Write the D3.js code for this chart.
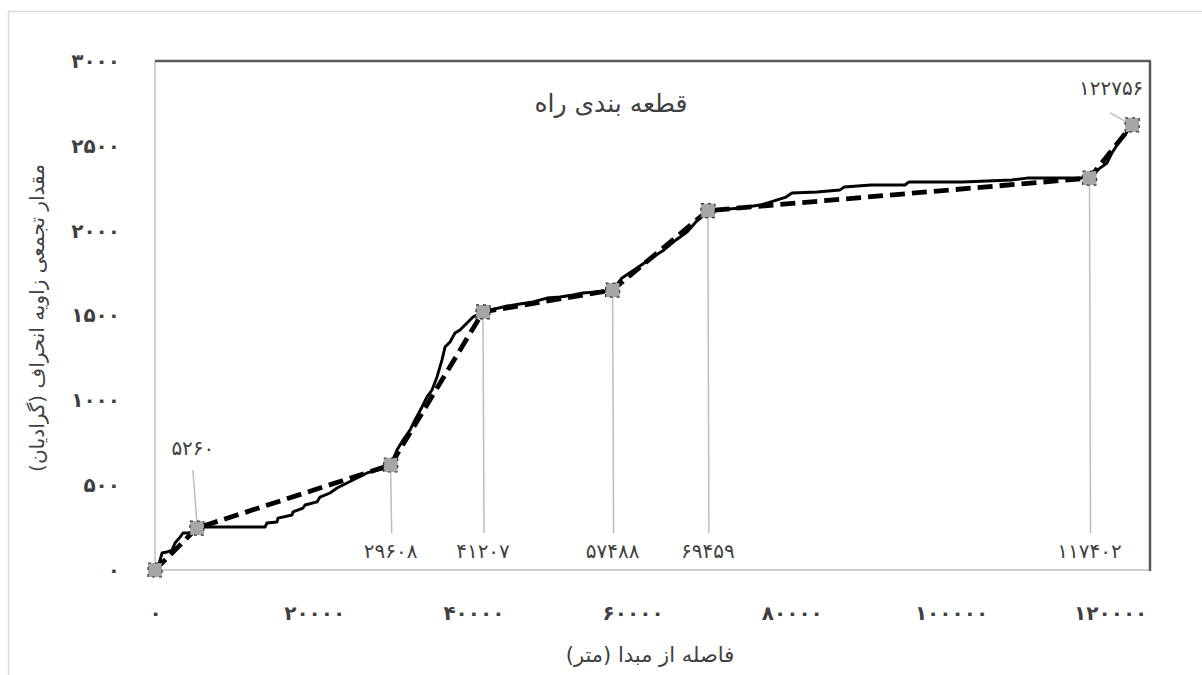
<!DOCTYPE html>
<html>
<head>
<meta charset="utf-8">
<script src="https://cdn.jsdelivr.net/npm/d3@7"></script>
<style>
  html, body { margin: 0; padding: 0; background: #fff; }
  svg { display: block; }
  text { font-family: "DejaVu Sans", sans-serif; fill: #404040; }
</style>
</head>
<body>
<svg id="chart" width="1202" height="675"></svg>
<script>
// Segment break points: distance from origin (m) and cumulative deflection (grad)
const breakDist  = [0, 5260, 29608, 41207, 57488, 69459, 117402, 122756];
const breakAngle = [0, 247, 619, 1521, 1650, 2118, 2310, 2623];

// Measured cumulative deflection along the road
const roadDist = [0, 377, 879, 1508, 2136, 2513, 3141, 3518, 4146, 4648, 5260, 6282, 13819, 14070,
  15327, 15452, 17211, 17337, 18593, 18845, 20352, 20729, 21985, 22865, 24121, 25377, 26634,
  27890, 29146, 29608, 30402, 31156, 32035, 32664, 33543, 34171, 34799, 35428, 36056, 36433,
  37061, 37689, 38317, 39196, 39950, 41207, 42086, 44222, 45855, 47488, 49247, 50880, 52513,
  53770, 55528, 57161, 57488, 58669, 60553, 62563, 63945, 65453, 66835, 67840, 68719, 69459,
  73619, 76006, 77388, 79272, 80026, 83167, 86056, 86559, 89951, 94223, 94725, 101384, 107665,
  109549, 115831, 117402, 118720, 119600, 120228, 121233, 121861, 122756];
const roadAngle = [0, 12, 100, 106, 118, 159, 194, 218, 218, 224, 247, 253, 253, 277,
  283, 306, 324, 342, 365, 383, 401, 430, 454, 483, 513, 542, 572,
  589, 601, 619, 707, 766, 825, 884, 961, 1020, 1061, 1138, 1238, 1314,
  1344, 1397, 1415, 1456, 1491, 1521, 1532, 1556, 1568, 1580, 1603, 1609, 1621,
  1633, 1639, 1644, 1650, 1721, 1780, 1845, 1886, 1945, 1992, 2045, 2092, 2118,
  2134, 2151, 2169, 2198, 2222, 2228, 2240, 2257, 2269, 2269, 2287, 2287, 2299,
  2310, 2310, 2310, 2369, 2399, 2458, 2534, 2564, 2623];

const xTicks = [0, 20000, 40000, 60000, 80000, 100000, 120000];
const yTicks = [0, 500, 1000, 1500, 2000, 2500, 3000];

const titleText = "قطعه بندی راه";
const xTitle = "فاصله از مبدا (متر)";
const yTitle = "مقدار تجمعی زاویه انحراف (گرادیان)";

// Western digits -> Persian digits
const faDigits = "۰۱۲۳۴۵۶۷۸۹";
const fa = v => String(v).replace(/[0-9]/g, d => faDigits[+d]);

const svg = d3.select("#chart");
const W = 1202, H = 675;
const plot = { left: 155, right: 1150, top: 61, bottom: 570 };

const x = d3.scaleLinear().domain([0, 125000]).range([plot.left, plot.right]);
const y = d3.scaleLinear().domain([0, 3000]).range([plot.bottom, plot.top]);

svg.append("rect").attr("width", W).attr("height", H).attr("fill", "#fff");
// outer chart border
svg.append("rect").attr("x", 8.5).attr("y", 11.5).attr("width", 1400).attr("height", 1000)
  .attr("fill", "none").attr("stroke", "#d9d9d9").attr("stroke-width", 1.5);

// plot frame: light left/bottom, dark top/right
svg.append("line").attr("x1", plot.left).attr("x2", plot.left).attr("y1", plot.top).attr("y2", plot.bottom)
  .attr("stroke", "#d0d0d0").attr("stroke-width", 2);
svg.append("line").attr("x1", plot.left).attr("x2", plot.right).attr("y1", plot.bottom).attr("y2", plot.bottom)
  .attr("stroke", "#d0d0d0").attr("stroke-width", 2);
svg.append("line").attr("x1", plot.left).attr("x2", plot.right + 1).attr("y1", plot.top).attr("y2", plot.top)
  .attr("stroke", "#5a5a5a").attr("stroke-width", 2.5);
svg.append("line").attr("x1", plot.right).attr("x2", plot.right).attr("y1", plot.top).attr("y2", plot.bottom + 1)
  .attr("stroke", "#5a5a5a").attr("stroke-width", 2.5);

// axes
const yAxis = svg.append("g").attr("transform", `translate(${plot.left},0)`)
  .call(d3.axisLeft(y).tickValues(yTicks).tickSize(0).tickPadding(35).tickFormat(fa));
const xAxis = svg.append("g").attr("transform", `translate(0,${plot.bottom})`)
  .call(d3.axisBottom(x).tickValues(xTicks).tickSize(0).tickPadding(36).tickFormat(fa));
[yAxis, xAxis].forEach(g => {
  g.select(".domain").remove();
  g.selectAll("text").style("font-family", "DejaVu Sans, sans-serif")
    .style("font-size", "20px").style("font-weight", "bold").attr("fill", "#404040");
});

// leader lines and labels for break points
const leaderColor = "#bdbdbd";
const labelSize = "20px";
breakDist.forEach((d, i) => {
  if (i === 0) return;
  const px = x(d), py = y(breakAngle[i]);
  const last = i === breakDist.length - 1;
  if (i === 1) {
    svg.append("line").attr("x1", px).attr("y1", py - 6).attr("x2", px - 4).attr("y2", py - 58)
      .attr("stroke", leaderColor).attr("stroke-width", 1.5);
    svg.append("text").attr("x", px - 4).attr("y", py - 80).attr("text-anchor", "middle")
      .attr("dominant-baseline", "central").style("font-size", labelSize).text(fa(d));
  } else if (last) {
    svg.append("line").attr("x1", px - 6).attr("y1", py - 3).attr("x2", px - 22).attr("y2", py - 12)
      .attr("stroke", leaderColor).attr("stroke-width", 1.5);
    svg.append("text").attr("x", px - 21).attr("y", py - 37).attr("text-anchor", "middle")
      .attr("dominant-baseline", "central").style("font-size", labelSize).text(fa(d));
  } else {
    svg.append("line").attr("x1", px).attr("y1", py + 6).attr("x2", px + 1).attr("y2", 533)
      .attr("stroke", leaderColor).attr("stroke-width", 1.5);
    svg.append("text").attr("x", px).attr("y", 551).attr("text-anchor", "middle")
      .attr("dominant-baseline", "central").style("font-size", labelSize).text(fa(d));
  }
});

// measured curve
const line = d3.line().x(d => x(d[0])).y(d => y(d[1]));
svg.append("path").datum(d3.zip(roadDist, roadAngle)).attr("d", line)
  .attr("fill", "none").attr("stroke", "#000").attr("stroke-width", 2.9)
  .attr("stroke-linejoin", "round");

// segmentation line
svg.append("path").datum(d3.zip(breakDist, breakAngle)).attr("d", line)
  .attr("fill", "none").attr("stroke", "#000").attr("stroke-width", 4.8)
  .attr("stroke-dasharray", "15,7");

// break-point markers
svg.append("g").selectAll("rect").data(d3.zip(breakDist, breakAngle)).join("rect")
  .attr("x", d => x(d[0]) - 7).attr("y", d => y(d[1]) - 7)
  .attr("width", 14).attr("height", 14)
  .attr("fill", "#a6a6a6").attr("stroke", "#333").attr("stroke-width", 1.2)
  .attr("stroke-dasharray", "3,4");

// titles
svg.append("text").attr("x", 611).attr("y", 103).attr("text-anchor", "middle")
  .attr("dominant-baseline", "central").style("font-size", "25px").text(titleText);
svg.append("text").attr("x", 650).attr("y", 655).attr("text-anchor", "middle")
  .attr("dominant-baseline", "central").style("font-size", "21px").text(xTitle);
svg.append("text").attr("transform", "translate(37,318) rotate(-90)").attr("text-anchor", "middle")
  .attr("dominant-baseline", "central").style("font-size", "20px").text(yTitle);
</script>
</body>
</html>
